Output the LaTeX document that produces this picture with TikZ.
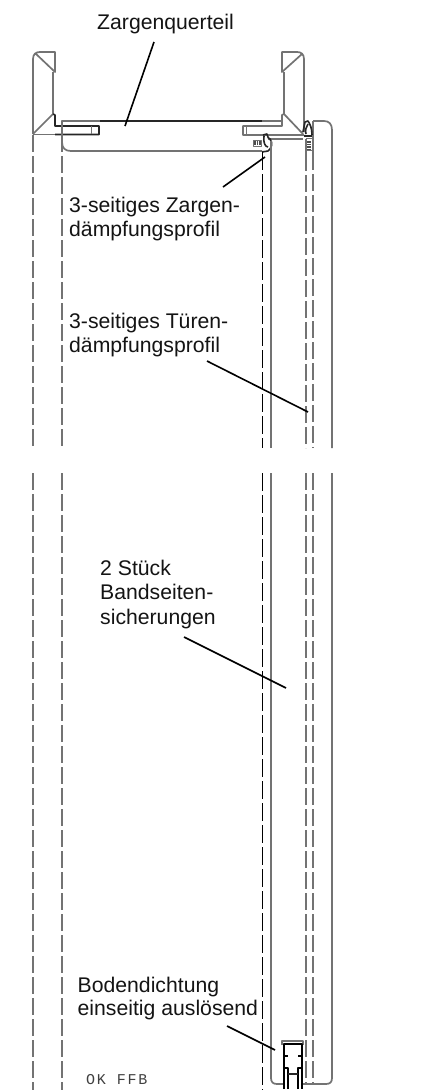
\documentclass[tikz,border=0pt]{standalone}
\usepackage{fontspec}
\setmainfont{Liberation Sans}
\newfontfamily\cadfont[LetterSpace=12]{Liberation Mono}
\tikzset{
  part/.style={draw=black!55,line width=1.7pt,line join=round},
  partthin/.style={draw=black!55,line width=1pt,line join=round},
  hidden/.style={draw=black!55,line width=1.7pt,dash pattern=on 17pt off 4pt},
  hiddenk/.style={draw=black,line width=1pt,dash pattern=on 18pt off 4pt},
  lead/.style={draw=black,line width=1.6pt},
  dark/.style={draw=black!85,line width=1.6pt,line join=round},
  heavy/.style={draw=black,line width=2.8pt,line join=round},
  lab/.style={font=\fontsize{21.2}{24.4}\selectfont,align=left,anchor=north west,inner sep=0pt,text=black!92}
}
\begin{document}
\begin{tikzpicture}[x=1pt,y=-1pt]
\useasboundingbox[fill=white] (0,0) rectangle (422,1090);
% left frame
\draw[part] (33,134) -- (33,59) .. controls (33,54) and (36,52) .. (40,52) -- (55,52) -- (55,72) -- (35,53);
\draw[part] (53,72) -- (53,114);
\draw[part] (33,134) -- (53,114);
\draw[dark] (53,114) -- (55,115) -- (55,126) -- (99,126) -- (99,134.5) -- (55,134.5);
\draw[part] (33,134.5) -- (55,134.5);
\draw[partthin] (91,126) -- (91,134);
% right frame
\draw[part] (302,54) -- (282,72) -- (282,52) -- (297,52) .. controls (301,52) and (304,54) .. (304,59) -- (304,132);
\draw[part] (284,72) -- (284,114);
\draw[part] (284,114) -- (303,134);
\draw[part] (284,114) -- (282,115) -- (282,126) -- (243,126) -- (243,135) -- (304,135);
\draw[partthin] (246.7,126) -- (246.7,135);
% door leaf top
\draw[part] (62,134) -- (62,121) -- (282,121);
\draw[dark] (100,121) -- (262,121);
\draw[part] (62,134) -- (62,142) .. controls (62,148) and (65,151) .. (71,151) -- (262,151);
\draw[part] (268,139) -- (303,139);
\draw[part] (313,121) -- (324,121) .. controls (329,121) and (332,124) .. (332,130) -- (332,448);
\draw[part] (313,121) -- (313,153);
\draw[part] (306,139) -- (306,154);
% frame damping profile
\draw[dark] (263,135) -- (267,134) .. controls (268,137) and (268,139) .. (270,139) .. controls (273,143) and (272,148) .. (268,151) -- (262,152);
\draw[dark] (264,136) .. controls (263,142) and (265,147) .. (268,147);
\draw[black!70,line width=4pt,dash pattern=on 1.5pt off 1pt] (254,143) -- (261,143);
\draw[partthin] (253.5,140) rectangle (261,146);
% door damping profile
\draw[dark] (303,132) -- (305,122) -- (308,121) .. controls (310,124) and (312,128) .. (312,135);
\draw[dark] (308,124) .. controls (306,127) and (305,130) .. (306,134);
\draw[dark] (304,136) -- (312,136);
\draw[black!70,line width=4pt,dash pattern=on 1.5pt off 1pt] (309,141) -- (309,149);
\draw[partthin] (306,138) rectangle (312.5,150);
% long lines, upper run
\draw[hidden] (33,135) -- (33,448);
\draw[hidden] (62,135) -- (62,448);
\draw[hiddenk] (262,152) -- (262,448);
\draw[part] (271,141) -- (271,448);
\draw[hidden] (306,154) -- (306,448);
\draw[hidden] (313,153) -- (313,448);
% long lines, lower run
\draw[hidden] (33,473) -- (33,1090);
\draw[hidden] (62,473) -- (62,1090);
\draw[hiddenk] (262,473) -- (262,1090);
\draw[part] (271,473) -- (271,1078) .. controls (271,1082) and (273,1084) .. (277,1084) -- (283,1084);
\draw[part] (302,1084) -- (326,1084) .. controls (330,1084) and (332,1082) .. (332,1078) -- (332,473);
\draw[hidden] (306,473) -- (306,1084);
\draw[hidden] (313,473) -- (313,1084);
% floor seal
\draw[part] (282,1045) -- (282,1041) -- (303,1041) -- (303,1045);
\draw[heavy] (284,1089) -- (284,1044) -- (302,1044) -- (302,1089);
\draw[heavy] (284,1056) -- (288,1056);
\draw[heavy] (298,1056) -- (302,1056);
\draw[heavy] (288,1089) -- (288,1068) -- (284,1068);
\draw[heavy] (298,1089) -- (298,1068) -- (302,1068);
\draw[dark] (288,1074) -- (298,1074);
% labels
\node[lab] (zq) at (97,13.7) {Zargenquerteil};
\node[lab] (zd) at (69,196.7) {3-seitiges Zargen-\\dämpfungsprofil};
\node[lab] (td) at (69,312.7) {3-seitiges Türen-\\dämpfungsprofil};
\node[lab] (bs) at (100,559.7) {2 Stück\\Bandseiten-\\sicherungen};
\node[lab,font=\fontsize{21.2}{23}\selectfont] (bd) at (77.5,977.4) {Bodendichtung\\einseitig auslösend};
\node[anchor=west,inner sep=0pt,text=black!75,font=\cadfont\fontsize{15}{15}\selectfont] (ok) at (86,1080) {OK FFB};
% leaders
\coordinate (zq1) at (154,42); \coordinate (zq2) at (125,126);
\coordinate (zd1) at (223,187); \coordinate (zd2) at (265,157);
\coordinate (td1) at (207,361); \coordinate (td2) at (308,412);
\coordinate (bs1) at (184,637); \coordinate (bs2) at (286,688);
\coordinate (bd1) at (227,1026); \coordinate (bd2) at (275,1050);
\draw[lead] (zq1) -- (zq2);
\draw[lead] (zd1) -- (zd2);
\draw[lead] (td1) -- (td2);
\draw[lead] (bs1) -- (bs2);
\draw[lead] (bd1) -- (bd2);
\end{tikzpicture}
\end{document}
